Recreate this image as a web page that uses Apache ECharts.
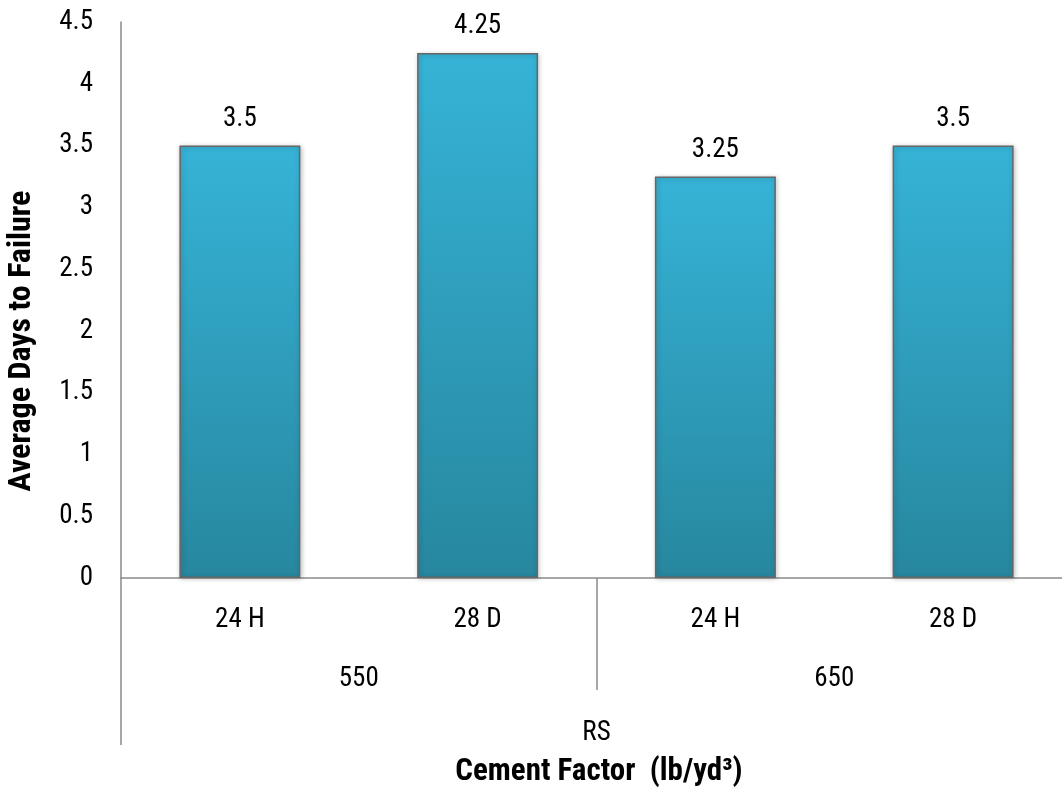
<!DOCTYPE html>
<html>
<head>
<meta charset="utf-8">
<script src="https://cdn.jsdelivr.net/npm/echarts@6/dist/echarts.min.js"></script>
<style>html,body{margin:0;padding:0;background:#fff}#c{width:1062px;height:790px}</style>
</head>
<body>
<div id="c"></div>
<script>
const curingAges = ['24 H', '28 D', '24 H', '28 D'];
const cementFactors = ['550', '650'];
const cementTypes = ['RS'];
const avgDaysToFailure = [3.5, 4.25, 3.25, 3.5];
const yTicks = { min: 0, max: 4.5, interval: 0.5 };

const FONT = "'Liberation Sans Narrow', 'Arial Narrow', 'Roboto Condensed', 'Liberation Sans', sans-serif";
const axisGray = '#8a8a8a';
const FS = 27;

const chart = echarts.init(document.getElementById('c'));
chart.setOption({
  animation: false,
  grid: { left: 121, width: 951, top: 22, height: 556, containLabel: false, outerBoundsMode: 'none' },
  title: {
    text: 'Cement Factor  (lb/yd³)',
    left: 594, top: 752, textAlign: 'center',
    textStyle: { fontFamily: FONT, fontSize: 31, fontWeight: 'bold', color: '#000' }
  },
  xAxis: [
    {
      type: 'category', data: curingAges, position: 'bottom',
      axisLine: { show: true, lineStyle: { color: axisGray, width: 1.5 } },
      axisTick: { show: false },
      axisLabel: { margin: 29, fontFamily: FONT, fontSize: FS, color: '#000' }
    },
    {
      type: 'category', data: cementFactors, position: 'bottom', offset: 0,
      axisLine: { show: false },
      axisTick: { show: true, length: 112, lineStyle: { color: axisGray, width: 1.5 } },
      axisLabel: { margin: 88, fontFamily: FONT, fontSize: FS, color: '#000' }
    },
    {
      type: 'category', data: cementTypes, position: 'bottom', offset: 0,
      axisLine: { show: false },
      axisTick: { show: true, length: 167, lineStyle: { color: axisGray, width: 1.5 } },
      axisLabel: { margin: 142, fontFamily: FONT, fontSize: FS, color: '#000' }
    }
  ],
  yAxis: {
    type: 'value', min: yTicks.min, max: yTicks.max, interval: yTicks.interval,
    name: 'Average Days to Failure', nameLocation: 'middle', nameGap: 83, nameRotate: 90,
    nameTextStyle: { fontFamily: FONT, fontSize: 32, fontWeight: 'bold', color: '#000', padding: [0, 82, 0, 0] },
    axisLine: { show: true, lineStyle: { color: axisGray, width: 1.5 } },
    axisTick: { show: false },
    splitLine: { show: false },
    axisLabel: { margin: 28, fontFamily: FONT, fontSize: FS, color: '#000' }
  },
  series: [{
    type: 'bar', xAxisIndex: 0, data: avgDaysToFailure, barWidth: 121,
    itemStyle: {
      color: new echarts.graphic.LinearGradient(0, 0, 0, 1, [
        { offset: 0, color: '#36b3d7' }, { offset: 1, color: '#27879f' }
      ]),
      borderColor: '#666', borderWidth: 1.5,
      shadowBlur: 5, shadowColor: 'rgba(0,0,0,0.25)', shadowOffsetX: 1, shadowOffsetY: 1
    },
    label: { show: true, position: 'top', distance: 13, fontFamily: FONT, fontSize: FS, color: '#000' }
  }]
});
</script>
</body>
</html>
